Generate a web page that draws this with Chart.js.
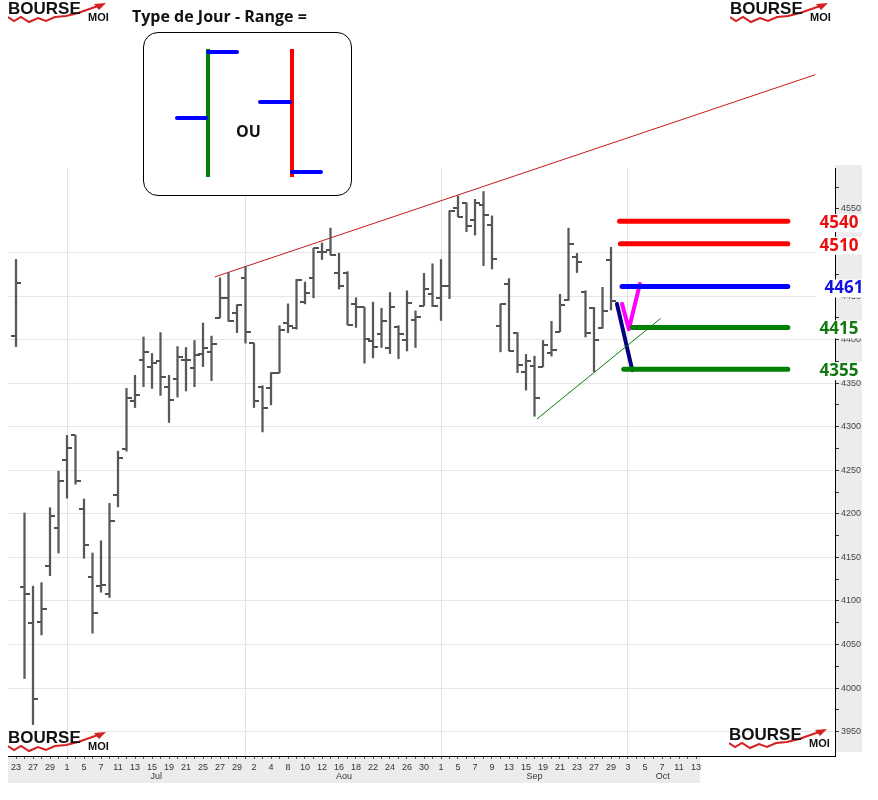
<!DOCTYPE html>
<html lang="fr">
<head>
<meta charset="utf-8">
<title>Type de Jour - Range</title>
<script src="https://cdn.jsdelivr.net/npm/chart.js@4.4.1/dist/chart.umd.min.js"></script>
<style>
  html, body { margin: 0; padding: 0; background: #fff; }
  #wrap { position: relative; width: 878px; height: 800px; overflow: hidden; }
  #chart { position: absolute; left: 0; top: 0; }

  .title { position: absolute; left: 132px; top: 5px; font: 700 16px "Open Sans", sans-serif; color: #111; white-space: nowrap; }
  .legend { position: absolute; left: 143px; top: 32px; width: 209px; height: 164px; box-sizing: border-box;
            border: 1px solid #000; border-radius: 15px; background: #fff; }
  .legend span { position: absolute; display: block; }
  .legend .v { width: 4px; height: 128px; top: 16px; }
  .legend .h { height: 4px; background: #0000ff; border-radius: 2px; }
  .legend .ou { font: 700 16px "Open Sans", sans-serif; color: #111; left: 92px; top: 87px; }

  .logo { position: absolute; width: 104px; height: 24px; }
  .logo svg { position: absolute; left: 0; top: 0; }
  .logo .b { position: absolute; left: 0; top: -3px; font: 700 17px "Liberation Sans", Arial, sans-serif; color: #111; }
  .logo .m { position: absolute; left: 80px; top: 9px; font: 700 11px "Liberation Sans", Arial, sans-serif; color: #111; }
</style>
</head>
<body>
<div id="wrap">
  <canvas id="chart" width="878" height="800"></canvas>

  <div class="title">Type de Jour - Range =</div>
  <div class="legend">
    <span class="v" style="left:62px;background:#008000"></span>
    <span class="h" style="left:62px;top:17px;width:33px"></span>
    <span class="h" style="left:31px;top:83px;width:33px"></span>
    <span class="ou">OU</span>
    <span class="v" style="left:146px;background:#ff0000"></span>
    <span class="h" style="left:114px;top:67px;width:34px"></span>
    <span class="h" style="left:146px;top:137px;width:33px"></span>
  </div>

  <div class="logo" style="left:8px;top:2px"></div>
  <div class="logo" style="left:730px;top:2px"></div>
  <div class="logo" style="left:8px;top:731px"></div>
  <div class="logo" style="left:729px;top:728px"></div>
</div>

<script>
// ── Données : séances du 23 juin au 13 octobre ────────────────
const days = [
  23, 24, 27, 28, 29, 30,
  1, 4, 5, 6, 7, 8, 11, 12, 13, 14, 15, 18, 19, 20, 21, 22, 25, 26, 27, 28, 29,
  1, 2, 3, 4, 5, 8, 9, 10, 11, 12, 15, 16, 17, 18, 19, 22, 23, 24, 25, 26, 29, 30, 31,
  1, 2, 5, 6, 7, 8, 9, 12, 13, 14, 15, 16, 19, 20, 21, 22, 23, 26, 27, 28, 29, 30,
  3, 4, 5, 6, 7, 10, 11, 12, 13
];
const monthNames   = ['Jul', 'Aou', 'Sep', 'Oct'];
const monthCenters = [16.5, 38.6, 61, 76.1];
const monthStarts  = [6, 27, 50, 72];

const opens  = [4404, 4116, 4075, 4076, 4140, 4184, 4262, 4290, 4206, 4128, 4117, 4108, 4222, 4274, 4330, 4377, 4369, 4376,
                4346, 4355, 4377, 4367, 4383, 4386, 4425, 4448, 4431, 4471, 4396, 4346, 4345, 4362, 4419, 4413, 4443, 4471,
                4501, 4503, 4476, 4476, 4441, 4437, 4398, 4407, 4390, 4415, 4399, 4422, 4439, 4452, 4448, 4462, 4551, 4557,
                4537, 4554, 4531, 4416, 4464, 4408, 4363, 4370, 4369, 4385, 4409, 4446, 4495, 4455, 4436, 4413, 4491];
const highs  = [4492, 4201, 4117, 4121, 4207, 4249, 4290, 4290, 4217, 4155, 4169, 4212, 4272, 4344, 4359, 4403, 4384, 4408,
                4359, 4392, 4391, 4399, 4419, 4404, 4471, 4477, 4440, 4484, 4396, 4347, 4362, 4416, 4441, 4469, 4466, 4505,
                4511, 4528, 4499, 4478, 4448, 4437, 4443, 4436, 4454, 4416, 4456, 4433, 4476, 4487, 4492, 4548, 4565, 4557,
                4561, 4570, 4542, 4441, 4470, 4408, 4383, 4381, 4399, 4421, 4452, 4528, 4499, 4456, 4437, 4460, 4506];
const lows   = [4392, 4011, 3958, 4061, 4129, 4155, 4218, 4234, 4149, 4063, 4110, 4104, 4208, 4272, 4322, 4346, 4344, 4336,
                4305, 4334, 4341, 4346, 4369, 4353, 4425, 4421, 4408, 4396, 4322, 4294, 4325, 4362, 4408, 4412, 4441, 4448,
                4492, 4497, 4458, 4417, 4414, 4373, 4379, 4391, 4384, 4378, 4387, 4391, 4439, 4438, 4422, 4447, 4541, 4524,
                4520, 4485, 4481, 4386, 4387, 4362, 4342, 4312, 4369, 4381, 4409, 4445, 4477, 4403, 4363, 4413, 4434];
const closes = [4465, 4108, 3987, 4091, 4197, 4238, 4275, 4238, 4164, 4086, 4118, 4192, 4264, 4333, 4336, 4386, 4373, 4357,
                4331, 4380, 4377, 4382, 4390, 4395, 4448, 4421, 4440, 4409, 4329, 4322, 4362, 4411, 4416, 4469, 4453, 4505,
                4501, 4497, 4461, 4417, 4437, 4401, 4391, 4421, 4437, 4407, 4442, 4426, 4458, 4439, 4462, 4548, 4541, 4530,
                4557, 4543, 4492, 4441, 4387, 4371, 4375, 4333, 4394, 4388, 4440, 4510, 4489, 4408, 4399, 4433, 4444];

const yMajor = [3950, 4000, 4050, 4100, 4150, 4200, 4250, 4300, 4350, 4400, 4450, 4500, 4550];

// niveaux tracés à droite (valeur du trait, texte affiché)
const levelValues = [4536, 4510, 4461, 4414, 4366];
const levelLabels = ['4540', '4510', '4461', '4415', '4355'];
const levelStarts = [71.0, 71.1, 71.3, 72.5, 71.5];
const levelEnd    = 90.8;

// droites de tendance et projection [séance, cours]
const resistance = [[23.4, 4472], [94.0, 4704]];
const support    = [[61.3, 4309], [75.8, 4424]];
const projDown   = [[70.7, 4441], [72.5, 4365]];
const projV      = [[71.3, 4441], [72.1, 4412], [73.4, 4464]];

// ── Logos ──────────────────────────────────────────────────────
document.querySelectorAll('.logo').forEach(el => {
  el.innerHTML =
    '<svg width="104" height="24"><polyline points="0,15 6,19 13,15 21,20 30,16 38,19 47,15 58,14 70,11 90,4" ' +
    'fill="none" stroke="#d42020" stroke-width="2"/><polygon points="98,1 86,2 91,8" fill="#d42020"/></svg>' +
    '<span class="b">BOURSE</span><span class="m">MOI</span>';
});

// ── Graphique ──────────────────────────────────────────────────
const PX_DAY = 8.5;
const LEFT = 8, RIGHT = 835;

function tickImage(side) {
  const c = document.createElement('canvas');
  c.width = 10; c.height = 2;
  const g = c.getContext('2d');
  g.fillStyle = '#505050';
  g.fillRect(side === 'left' ? 0 : 5, 0, 5, 2);
  return c;
}

const pts = arr => arr.map(([x, y]) => ({ x, y }));

function lineSet(data, color, width, extra) {
  return Object.assign({
    type: 'line', data, borderColor: color, borderWidth: width,
    pointRadius: 0, borderCapStyle: 'round', borderJoinStyle: 'round', tension: 0
  }, extra || {});
}

const levelColors = ['#ff0000', '#ff0000', '#0000ff', '#008000', '#008000'];
const labelColors = ['#e81010', '#e81010', '#1010e0', '#107a10', '#107a10'];

const decor = {
  id: 'decor',
  beforeDraw(chart) {
    const { ctx } = chart;
    ctx.save();
    ctx.fillStyle = '#fff';
    ctx.fillRect(0, 0, chart.width, chart.height);
    ctx.fillStyle = '#ececec';
    ctx.fillRect(RIGHT, 165, 27, 587);
    ctx.fillRect(LEFT, 757, 692, 26);
    ctx.restore();
  },
  afterDraw(chart) {
    const { ctx, scales: { x, y } } = chart;
    ctx.save();
    ctx.font = '9px "Liberation Sans", Arial, sans-serif';
    ctx.fillStyle = '#333';
    ctx.textAlign = 'center';
    ctx.textBaseline = 'middle';
    monthNames.forEach((m, k) => ctx.fillText(m, x.getPixelForValue(monthCenters[k]), 777));

    ctx.font = '700 17px "Open Sans", sans-serif';
    levelLabels.forEach((t, k) => {
      const py = y.getPixelForValue(levelValues[k]) + 2;
      ctx.fillStyle = '#fff';
      ctx.fillRect(816, py - 9, 50, 18);
      ctx.fillStyle = labelColors[k];
      ctx.fillText(t, k === 2 ? 844 : 839, py);
    });
    ctx.restore();
  }
};

new Chart(document.getElementById('chart'), {
  type: 'bar',
  data: {
    datasets: [
      {
        type: 'bar',
        data: lows.map((l, i) => ({ x: i, y: [l, highs[i]] })),
        backgroundColor: '#585858',
        barThickness: 1.6,
        borderWidth: 0
      },
      {
        type: 'scatter',
        data: opens.map((v, i) => ({ x: i, y: v })),
        pointStyle: tickImage('left'), pointRadius: 3
      },
      {
        type: 'scatter',
        data: closes.map((v, i) => ({ x: i, y: v })),
        pointStyle: tickImage('right'), pointRadius: 3
      },
      lineSet(pts(resistance), '#c41a1a', 1, { clip: false }),
      lineSet(pts(support), '#0c7a0c', 1),
      ...levelValues.map((v, k) =>
        lineSet([{ x: levelStarts[k], y: v }, { x: levelEnd, y: v }], levelColors[k], 5)),
      lineSet(pts(projDown), '#000080', 4),
      lineSet(pts(projV), '#ff00ff', 4)
    ]
  },
  options: {
    responsive: false,
    animation: false,
    devicePixelRatio: 1,
    events: [],
    layout: { padding: { left: LEFT, top: 168, right: 0, bottom: 0 } },
    plugins: { legend: { display: false }, tooltip: { enabled: false } },
    scales: {
      x: {
        type: 'linear',
        offset: false,
        min: -LEFT / PX_DAY,
        max: (RIGHT - 2 * LEFT) / PX_DAY,
        afterBuildTicks: s => { s.ticks = days.map((d, i) => ({ value: i })); },
        afterFit: s => { s.height = 44; },
        border: { color: '#000', width: 1 },
        grid: {
          offset: false,
          color: c => (c.tick && monthStarts.includes(c.tick.value)) ? '#e2e2e2' : 'rgba(0,0,0,0)',
          tickColor: '#555',
          tickLength: 3
        },
        ticks: {
          autoSkip: false, maxRotation: 0, padding: 3,
          font: { family: '"Liberation Sans", Arial, sans-serif', size: 9 },
          color: '#333',
          callback: v => (v % 2 === 0 ? String(days[v]) : '')
        }
      },
      y: {
        position: 'right',
        min: 3922,
        max: 4597,
        afterBuildTicks: s => { s.ticks = yMajor.flatMap(v => [{ value: v }, { value: v + 25 }]); },
        afterFit: s => { s.width = 878 - RIGHT; },
        border: { color: '#000', width: 1 },
        grid: {
          color: c => (c.tick && c.tick.value % 50 === 0 && c.tick.value <= 4500) ? '#e6e6e6' : 'rgba(0,0,0,0)',
          tickColor: '#333',
          tickLength: 4
        },
        ticks: {
          autoSkip: false, padding: 2,
          font: { family: '"Liberation Sans", Arial, sans-serif', size: 9 },
          color: '#444',
          callback: v => (v % 50 === 0 ? String(v) : '')
        }
      }
    }
  },
  plugins: [decor]
});
</script>
</body>
</html>
